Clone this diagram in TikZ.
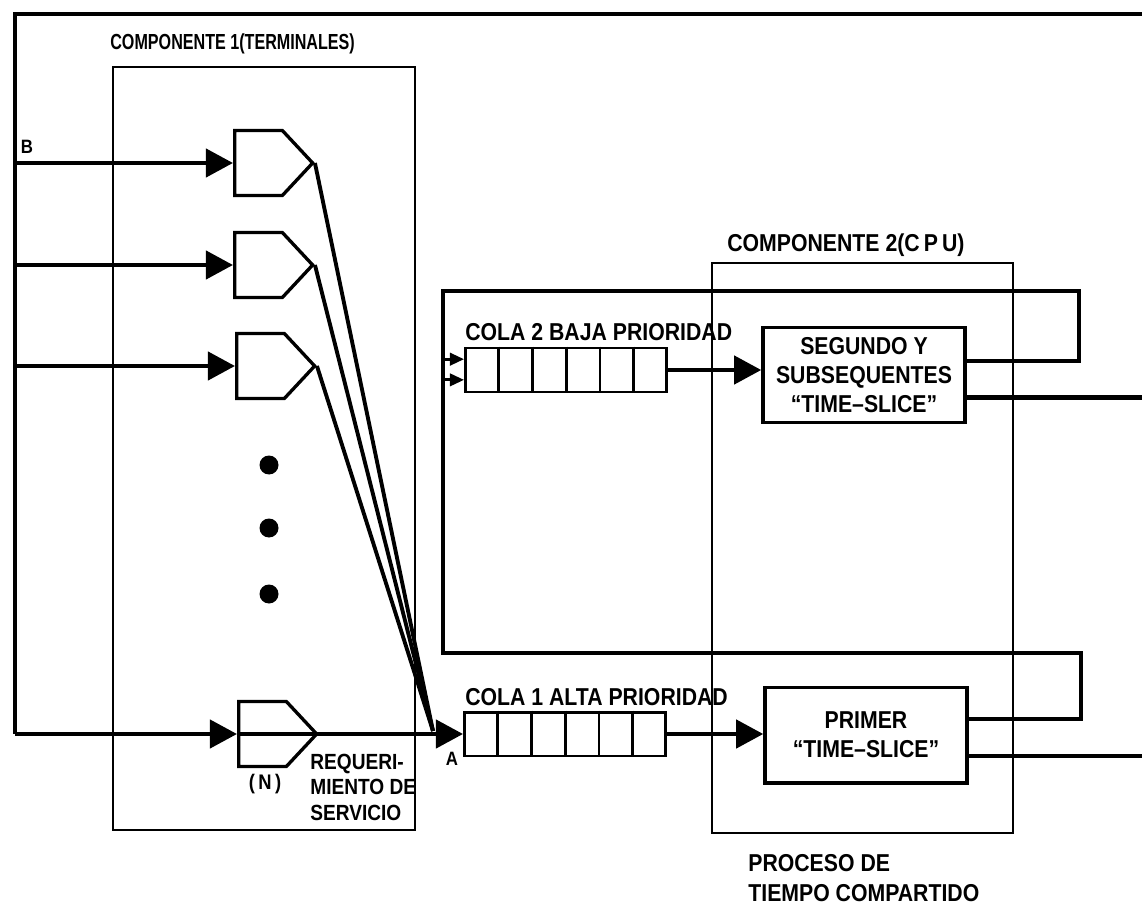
\documentclass[tikz,border=0pt]{standalone}
\usepackage{fontspec}
\setmainfont{Liberation Sans}[FakeStretch=0.87]
\newfontfamily\narrowfont{Liberation Sans}[FakeStretch=0.74]
\usetikzlibrary{arrows.meta,shapes.symbols,calc}

\begin{document}
\begin{tikzpicture}[
  x=0.02cm,y=-0.02cm,
  font=\bfseries\fontsize{13.9}{16.7}\selectfont,
  region/.style={draw,line width=1.4pt,inner sep=0},
  terminal/.style={draw,signal,signal to=east,signal pointer angle=94,line width=1.9pt,minimum width=1.56cm,minimum height=1.3cm,inner sep=0,anchor=west},
  queue/.style={draw,line width=1.7pt,minimum width=4.02cm,minimum height=0.88cm,inner sep=0},
  slice/.style={draw,line width=2pt,minimum width=4.04cm,minimum height=1.91cm,align=center,inner sep=0},
  dot/.style={circle,fill,inner sep=0,minimum size=0.38cm},
  tag/.style={inner sep=0,font=\bfseries\fontsize{11}{13}\selectfont},
  flow/.style={line width=2.6pt},
  feed/.style={-{Triangle[length=15.5pt,width=16pt]},line width=2.6pt},
  tick/.style={-{Triangle[length=8pt,width=7pt]},line width=1.6pt}
]
  \useasboundingbox (0,0) rectangle (1142,905);

  \node[region,minimum width=6.04cm,minimum height=15.26cm] (terminales) at (264,448.5) {};
  \node[anchor=west,inner sep=0,font=\narrowfont\bfseries\fontsize{12.4}{14}\selectfont] (terminales-label) at (110,44) {COMPONENTE 1(TERMINALES)};
  \node[region,minimum width=6.02cm,minimum height=11.4cm] (cpu) at (862.5,548) {};
  \node[anchor=west,inner sep=0] (cpu-label) at (727,245) {COMPONENTE 2(C\,P\,U)};

  \node[terminal] (term-1) at (233,163) {};
  \node[terminal] (term-2) at (233,265) {};
  \node[terminal] (term-3) at (235,366) {};
  \node[terminal] (term-n) at (237,734) {};
  \node[dot] (dot-1) at (269,465) {};
  \node[dot] (dot-2) at (269,528) {};
  \node[dot] (dot-3) at (269,594) {};

  \node[queue] (cola-2) at (566,370) {};
  \node[anchor=west,inner sep=0] (cola-2-label) at (465,332) {COLA 2 BAJA PRIORIDAD};
  \node[queue] (cola-1) at (565,734) {};
  \node[anchor=west,inner sep=0] (cola-1-label) at (465,697) {COLA 1 ALTA PRIORIDAD};
  \foreach \q in {cola-1,cola-2}
    \foreach \i in {1,...,5}
      \draw[line width=1.7pt] ($(\q.north west)!\i/6!(\q.north east)$) -- ($(\q.south west)!\i/6!(\q.south east)$);

  \node[slice] (segundo) at (864,375) {SEGUNDO Y\\SUBSEQUENTES\\``TIME--SLICE''};
  \node[slice] (primer) at (866,735) {PRIMER\\``TIME--SLICE''};

  \node[tag] (label-b) at (27,147) {B};
  \node[tag] (label-a) at (452,759) {A};
  \node[tag,font=\bfseries\fontsize{12}{14}\selectfont] (label-n) at (265,784) {(\,N\,)};
  \node[anchor=west,inner sep=0,align=left,font=\bfseries\fontsize{12.5}{14.5}\selectfont] (requerimiento) at (310,787) {REQUERI-\\MIENTO DE\\SERVICIO};
  \node[anchor=west,inner sep=0,align=left] (proceso) at (748,878) {PROCESO DE\\TIEMPO COMPARTIDO};

  \coordinate (corner-tr) at (1142,14);
  \coordinate (corner-tl) at (15,14);
  \draw[flow] (corner-tr) -- (corner-tl) -- (corner-tl |- term-n.west);
  \foreach \t in {term-1,term-2,term-3}
    \draw[feed] (\t.west -| corner-tl) -- (\t.west);
  \draw[feed] (corner-tl |- term-n.west) -- (term-n.west);
  \draw[flow] (term-n.west) -- (term-n.east);
  \draw[feed] (term-n.east) -- (cola-1.west);
  \coordinate (merge) at (433,731);
  \foreach \t in {term-1,term-2,term-3}
    \draw[line width=2.2pt] (\t.east) -- (merge);

  \coordinate (seg-fb) at ($(segundo.north east)!0.36!(segundo.south east)$);
  \coordinate (seg-out) at ($(segundo.north east)!0.73!(segundo.south east)$);
  \coordinate (pri-fb) at ($(primer.north east)!0.34!(primer.south east)$);
  \coordinate (pri-out) at ($(primer.north east)!0.71!(primer.south east)$);
  \coordinate (loop-top) at (1079,291);
  \coordinate (loop-left) at (443,291);
  \coordinate (loop-low) at (1081,653);
  \draw[flow] (seg-fb) -| (loop-top) -- (loop-left) -- (loop-left |- loop-low) -- (loop-low) |- (pri-fb);
  \coordinate (cola-2-in-1) at ($(cola-2.north west)!0.27!(cola-2.south west)$);
  \coordinate (cola-2-in-2) at ($(cola-2.north west)!0.71!(cola-2.south west)$);
  \draw[tick] (cola-2-in-1 -| loop-left) -- (cola-2-in-1);
  \draw[tick] (cola-2-in-2 -| loop-left) -- (cola-2-in-2);
  \draw[flow] (seg-out) -- (seg-out -| corner-tr);
  \draw[flow] (pri-out) -- (pri-out -| corner-tr);
  \draw[feed] (cola-2.east) -- (cola-2.east -| segundo.west);
  \draw[feed] (cola-1.east) -- (cola-1.east -| primer.west);
\end{tikzpicture}
\end{document}
